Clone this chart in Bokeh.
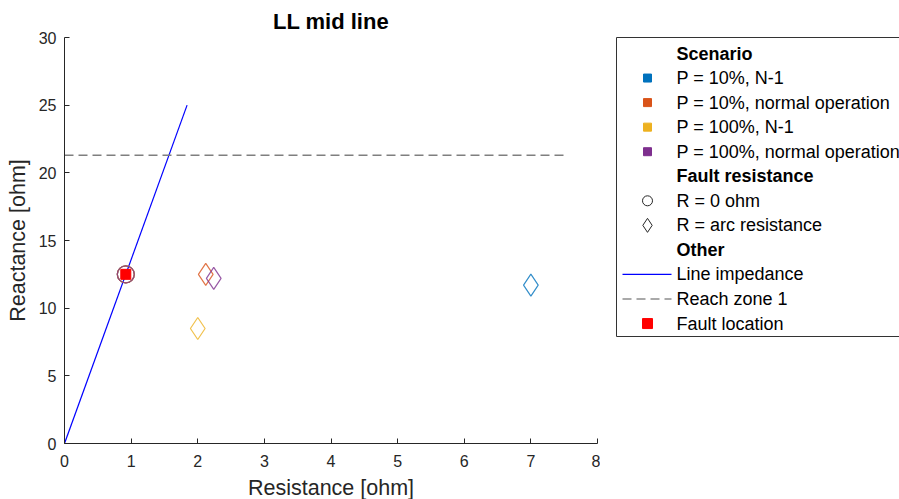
from bokeh.plotting import figure
from bokeh.layouts import row
from bokeh.models import Range1d, FixedTicker, ColumnDataSource
from bokeh.core.properties import value
from bokeh.embed import file_html
from bokeh.resources import INLINE

# Operating scenarios and their MATLAB-style colours
scenarios = ["P = 10%, N-1", "P = 10%, normal operation",
             "P = 100%, N-1", "P = 100%, normal operation"]
colors = ["#0072BD", "#D95319", "#EDB120", "#7E2F8E"]

# Measured impedance, bolted fault (R = 0 ohm)
r0_R = [0.92, 0.92, 0.92, 0.92]
r0_X = [12.5, 12.5, 12.5, 12.5]

# Measured impedance with arc resistance
arc_R = [7.0, 2.12, 2.0, 2.24]
arc_X = [11.7, 12.5, 8.5, 12.2]

# Line impedance characteristic and zone 1 reach
line_R = [0.0, 1.84]
line_X = [0.0, 25.0]
reach_R = [0.0, 7.55]
reach_X = [21.3, 21.3]

# Actual fault location (mid line)
fault_R = [0.92]
fault_X = [12.5]

x_ticks = [0, 1, 2, 3, 4, 5, 6, 7, 8]
y_ticks = [0, 5, 10, 15, 20, 25, 30]

FONT = value("Liberation Sans")
AX = "#262626"

p = figure(width=600, height=499, frame_width=533, frame_height=406,
           x_range=Range1d(0, 8), y_range=Range1d(0, 30),
           output_backend="svg", toolbar_location=None,
           min_border_left=64, min_border_right=3, min_border_top=37,
           min_border_bottom=56, title="LL mid line", frame_align=False)
p.outline_line_color = None
p.grid.visible = False
p.title.align = "center"
p.title.text_font = "Liberation Sans"
p.title.text_font_size = "22px"
p.title.text_font_style = "bold"
p.title.text_color = "#000000"
p.title.offset = 0
p.title.standoff = 7

for ax, ticks, label in ((p.xaxis[0], x_ticks, "Resistance [ohm]"),
                         (p.yaxis[0], y_ticks, "Reactance [ohm]")):
    ax.ticker = FixedTicker(ticks=ticks)
    ax.axis_label = label
    ax.axis_label_text_font = "Liberation Sans"
    ax.axis_label_text_font_size = "21.5px"
    ax.axis_label_text_font_style = "normal"
    ax.axis_label_text_color = AX
    ax.major_label_text_font = "Liberation Sans"
    ax.major_label_text_font_size = "16px"
    ax.major_label_text_color = AX
    ax.axis_line_color = AX
    ax.major_tick_line_color = AX
    ax.major_tick_in = 5
    ax.major_tick_out = 0
    ax.minor_tick_line_color = None

p.xaxis[0].major_label_standoff = 11
p.xaxis[0].axis_label_standoff = 6
p.yaxis[0].major_label_standoff = 8
p.yaxis[0].axis_label_standoff = 6

# Characteristic lines
p.line(line_R, line_X, line_color="#0000FF", line_width=1.2)
p.line(reach_R, reach_X, line_color="#7f7f7f", line_width=1.5, line_dash="9 5")

# Bolted-fault measurements (circles) and arc-fault measurements (diamonds)
src_r0 = ColumnDataSource(dict(x=r0_R, y=r0_X, c=colors))
src_arc = ColumnDataSource(dict(x=arc_R, y=arc_X, c=colors))
p.scatter("x", "y", source=src_r0, marker="circle", size=17,
          fill_color=None, line_color="c", line_width=1.2, line_alpha=0.8)
p.scatter("x", "y", source=src_arc, marker="diamond", size=22,
          fill_color=None, line_color="c", line_width=1.2, line_alpha=0.8)

# Fault location marker
p.scatter(fault_R, fault_X, marker="square", size=10,
          fill_color="#FF0000", line_color="#FF0000")

# ---- Legend panel (drawn in page pixel coordinates) ----
lg = figure(width=299, height=499, frame_width=299, frame_height=499,
            x_range=Range1d(600, 899), y_range=Range1d(499, 0),
            output_backend="svg", toolbar_location=None, min_border=0,
            frame_align=False)
lg.axis.visible = False
lg.grid.visible = False
lg.outline_line_color = None

row_y0, row_dy = 53.0, 24.55
marker_x, text_x = 647, 676
rows_y = [row_y0 + i * row_dy for i in range(12)]

# Frame (open on the right, running off the panel edge)
frame_xs = [1000, 616, 616, 1000]
frame_ys = [37, 37, 336, 336]
lg.line(frame_xs, frame_ys, line_color="#333333", line_width=1)

headers = ["Scenario", "Fault resistance", "Other"]
header_rows = [0, 5, 8]
lg.text(x=[text_x] * 3, y=[rows_y[i] for i in header_rows], text=headers,
        text_font=FONT, text_font_size="18px", text_font_style="bold",
        text_baseline="middle", text_color="#000000")

entries = scenarios + ["R = 0 ohm", "R = arc resistance",
                       "Line impedance", "Reach zone 1", "Fault location"]
entry_rows = [1, 2, 3, 4, 6, 7, 9, 10, 11]
lg.text(x=[text_x] * len(entries), y=[rows_y[i] for i in entry_rows],
        text=entries, text_font=FONT, text_font_size="18px",
        text_baseline="middle", text_color="#000000")

# Scenario colour swatches
lg.scatter(x=[marker_x] * 4, y=rows_y[1:5], marker="square", size=8,
           fill_color=colors, line_color=colors)
# Marker shape keys
lg.scatter(x=[marker_x], y=[rows_y[6]], marker="circle", size=10,
           fill_color=None, line_color=AX, line_width=1)
lg.scatter(x=[marker_x], y=[rows_y[7]], marker="diamond", size=14,
           fill_color=None, line_color=AX, line_width=1)
# Line keys
lg.line([622, 671], [rows_y[9]] * 2, line_color="#0000FF", line_width=1.2)
lg.line([622, 671], [rows_y[10]] * 2, line_color="#555555", line_width=1.2,
        line_dash="9 5")
lg.scatter(x=[marker_x], y=[rows_y[11]], marker="square", size=10,
           fill_color="#FF0000", line_color="#FF0000")

layout = row(p, lg)
open("out.html", "w").write(file_html(layout, INLINE))
